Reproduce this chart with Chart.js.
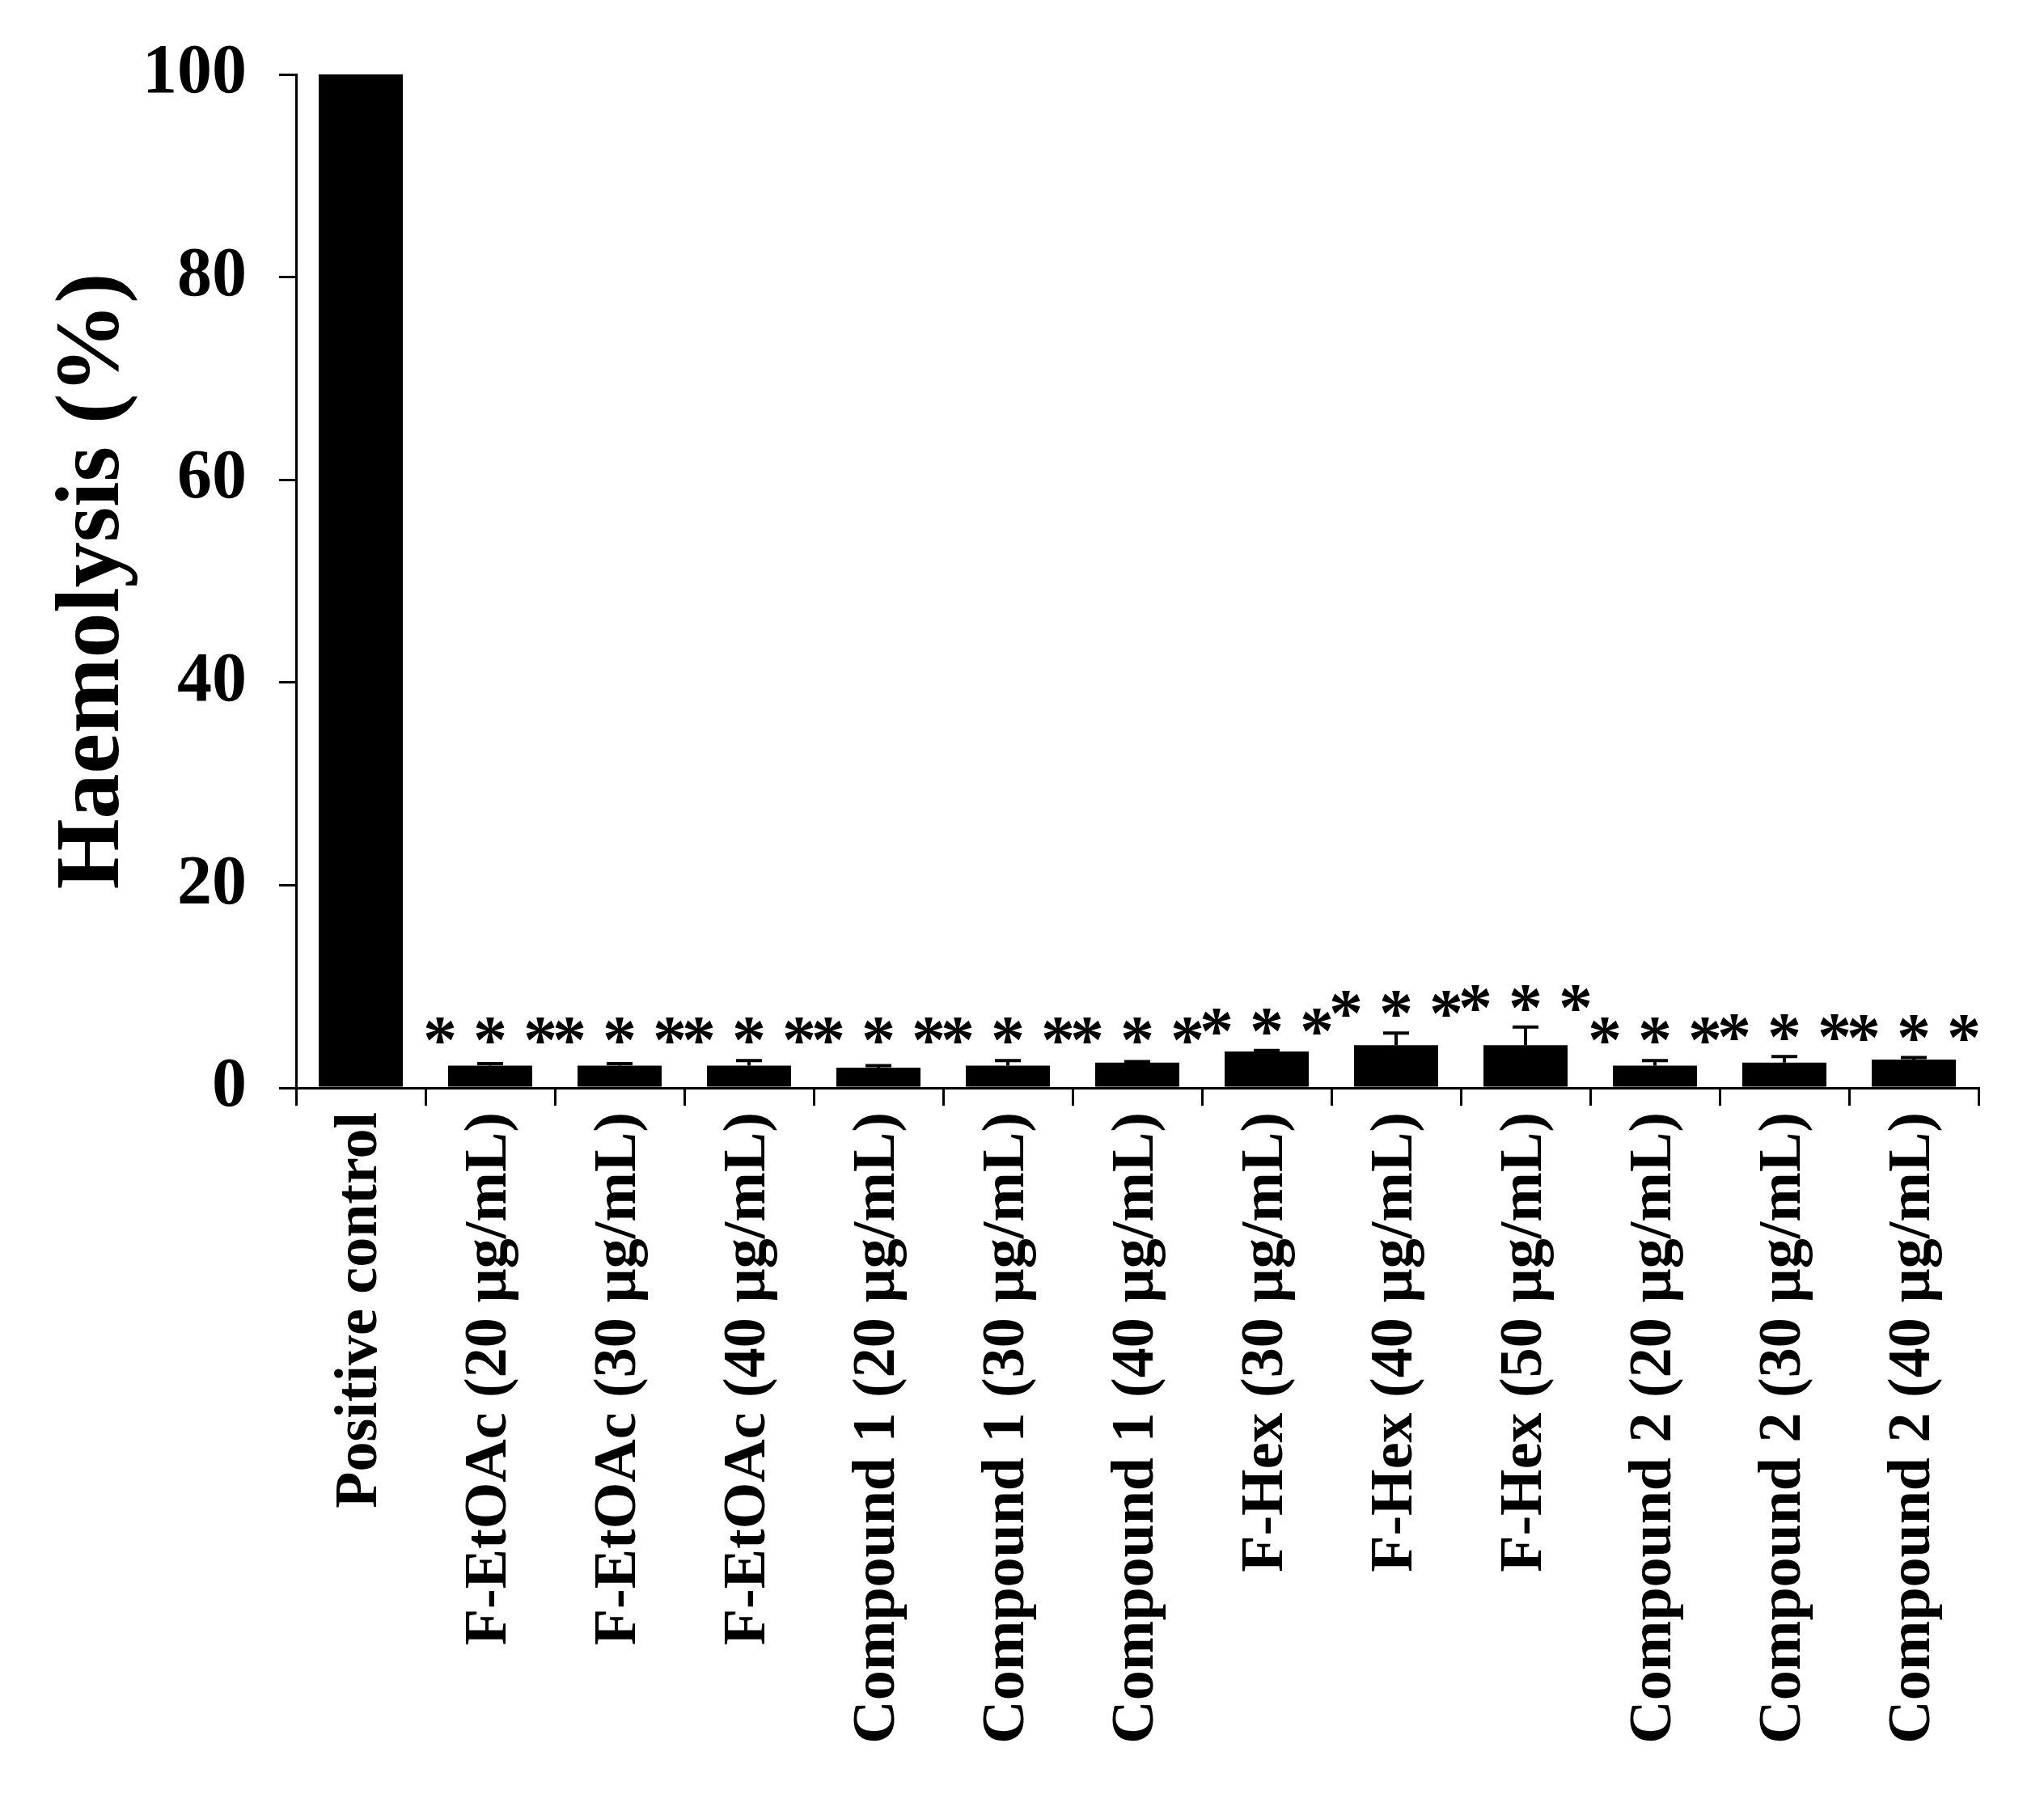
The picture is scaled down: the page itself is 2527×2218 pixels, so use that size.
<!DOCTYPE html>
<html><head><meta charset="utf-8">
<script src="https://cdn.jsdelivr.net/npm/chart.js@4"></script>
<style>html,body{margin:0;padding:0;background:#fff}#wrap{width:2527px;height:2218px}</style>
</head><body><div id="wrap"><canvas id="c" width="2527" height="2218"></canvas></div>
<script>
const categories = ["Positive control","F-EtOAc (20 µg/mL)","F-EtOAc (30 µg/mL)","F-EtOAc (40 µg/mL)","Compound 1 (20 µg/mL)","Compound 1 (30 µg/mL)","Compound 1 (40 µg/mL)","F-Hex (30 µg/mL)","F-Hex (40 µg/mL)","F-Hex (50 µg/mL)","Compound 2 (20 µg/mL)","Compound 2 (30 µg/mL)","Compound 2 (40 µg/mL)"];
const values = [100,2.2,2.2,2.2,2.0,2.2,2.5,3.6,4.2,4.2,2.2,2.5,2.8];
const errors = [0,0.2,0.2,0.5,0.2,0.5,0.1,0.1,1.2,1.8,0.5,0.6,0.2];
const marks = ["","***","***","***","***","***","***","***","***","***","***","***","***"];
const yTicks = [0,20,40,60,80,100];
const FONT = "'Liberation Serif','Times New Roman',serif";

const overlay = {
  id:'overlay',
  afterDatasetsDraw(chart){
    const ctx=chart.ctx, x=chart.scales.x, y=chart.scales.y;
    ctx.save();
    ctx.strokeStyle='#000'; ctx.fillStyle='#000'; ctx.lineWidth=4;
    values.forEach((v,i)=>{
      const cx=x.getPixelForValue(i);
      const top=y.getPixelForValue(v+errors[i]);
      if(errors[i]>0){
        const yb=y.getPixelForValue(v);
        ctx.beginPath(); ctx.moveTo(cx,yb); ctx.lineTo(cx,top);
        ctx.moveTo(cx-16,top); ctx.lineTo(cx+16,top); ctx.stroke();
      }
      if(marks[i]){
        ctx.font="bold 84px "+FONT; ctx.textAlign='center'; ctx.textBaseline='alphabetic';
        const m=ctx.measureText('*');
        const gTop=m.actualBoundingBoxAscent, gBot=-m.actualBoundingBoxDescent;
        const center=Math.min(top, y.getPixelForValue(2.8))-36;
        const base=center+(gTop+gBot)/2;
        const n=marks[i].length;
        for(let k=0;k<n;k++) ctx.fillText('*',cx+(k-(n-1)/2)*62,base);
      }
    });
    ctx.restore();
  }
};

new Chart(document.getElementById('c'),{
  type:'bar',
  data:{labels:categories,datasets:[{data:values,backgroundColor:'#000',borderWidth:0,barPercentage:0.65,categoryPercentage:1}]},
  options:{
    responsive:false,animation:false,
    layout:{padding:{left:0,right:81,top:92,bottom:0}},
    plugins:{legend:{display:false},tooltip:{enabled:false}},
    scales:{
      x:{
        grid:{offset:true,drawOnChartArea:false,tickLength:22,color:'#000',lineWidth:3},
        border:{color:'#000',width:3},
        ticks:{color:'#000',font:{family:FONT,weight:'bold',size:74},maxRotation:90,minRotation:90,padding:8},
        afterFit(s){s.height=2218-1345;}
      },
      y:{
        min:0,max:100,
        afterBuildTicks(s){s.ticks=yTicks.map(v=>({value:v}));},
        grid:{drawOnChartArea:false,tickLength:21,color:'#000',lineWidth:3},
        border:{color:'#000',width:3},
        ticks:{color:'#000',font:{family:FONT,weight:'bold',size:86},padding:40},
        title:{display:true,text:'Haemolysis (%)',color:'#000',font:{family:FONT,weight:'bold',size:112},padding:{top:50,bottom:0}},
        afterFit(s){s.width=366;}
      }
    }
  },
  plugins:[overlay]
});
</script></body></html>
